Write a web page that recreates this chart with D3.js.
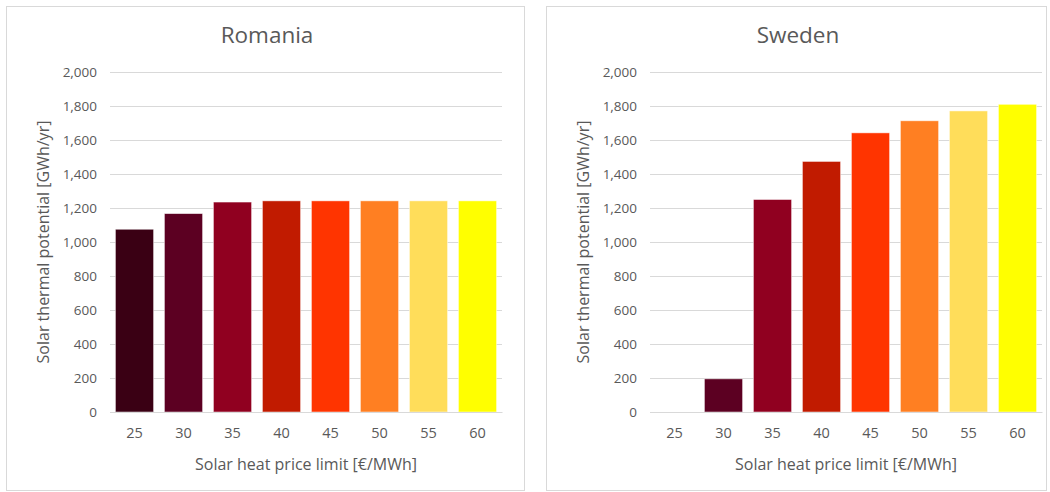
<!DOCTYPE html>
<html>
<head>
<meta charset="utf-8">
<script src="https://cdn.jsdelivr.net/npm/d3@7"></script>
<style>
  body { margin: 0; background: #fff; }
  svg text { font-family: "Open Sans", "Noto Sans", sans-serif; fill: #595959; }
</style>
</head>
<body>
<div id="chart"></div>
<script>
// price limits on the x axis
const priceLimits = ["25", "30", "35", "40", "45", "50", "55", "60"];
// one colour per price limit
const barColors = ["#3a0014", "#5c0022", "#900020", "#c11b00", "#ff3400", "#ff7f22", "#ffdd5a", "#ffff00"];
const yTicks = [0, 200, 400, 600, 800, 1000, 1200, 1400, 1600, 1800, 2000];
const romania = [1075, 1167, 1235, 1242, 1242, 1242, 1242, 1242];
const sweden = [0, 195, 1250, 1474, 1642, 1713, 1771, 1810];

const panels = [
  { title: "Romania", values: romania, box: [6, 6, 524, 490], plot: [110, 72, 502, 412] },
  { title: "Sweden", values: sweden, box: [546, 6, 1046, 490], plot: [650, 72, 1042, 412] },
];

const svg = d3.select("#chart").append("svg")
  .attr("width", 1050)
  .attr("height", 492);

const fmt = d3.format(",");

panels.forEach(p => {
  const [bx0, by0, bx1, by1] = p.box;
  const [x0, y0, x1, y1] = p.plot;

  // panel frame
  svg.append("rect")
    .attr("x", bx0 + 0.5).attr("y", by0 + 0.5)
    .attr("width", bx1 - bx0).attr("height", by1 - by0)
    .attr("fill", "#fff")
    .attr("stroke", "#d9d9d9");

  const x = d3.scaleBand()
    .domain(priceLimits)
    .range([x0, x1])
    .paddingInner(0.22)
    .paddingOuter(0.11);

  const y = d3.scaleLinear()
    .domain([0, 2000])
    .range([y1, y0]);

  const g = svg.append("g");

  // gridlines + y labels
  const yAxis = d3.axisLeft(y)
    .tickValues(yTicks)
    .tickSize(-(x1 - x0))
    .tickPadding(13)
    .tickFormat(fmt);
  g.append("g")
    .attr("transform", "translate(" + x0 + ",0)")
    .call(yAxis)
    .call(s => s.select(".domain").remove())
    .call(s => s.selectAll(".tick line").attr("stroke", "#d9d9d9"))
    .call(s => s.selectAll(".tick text").attr("font-size", 13.5).attr("fill", "#595959"));

  // bars
  g.selectAll("rect.bar")
    .data(p.values)
    .join("rect")
    .attr("class", "bar")
    .attr("x", (d, i) => x(priceLimits[i]))
    .attr("width", x.bandwidth())
    .attr("y", d => y(d))
    .attr("height", d => y(0) - y(d))
    .attr("fill", (d, i) => barColors[i])
    .attr("stroke", d => d > 0 ? "rgba(255,255,255,0.6)" : "none")
    .attr("stroke-width", 0.8);

  // x axis
  const xAxis = d3.axisBottom(x).tickSize(0).tickPadding(16);
  g.append("g")
    .attr("transform", "translate(0," + y1 + ")")
    .call(xAxis)
    .call(s => s.select(".domain").attr("stroke", "#d9d9d9"))
    .call(s => s.selectAll(".tick text").attr("font-size", 14.5).attr("fill", "#595959"));

  // titles
  svg.append("text")
    .attr("x", (bx0 + bx1) / 2 + 2)
    .attr("y", 43)
    .attr("text-anchor", "middle")
    .attr("font-size", 22.5)
    .text(p.title);

  svg.append("text")
    .attr("x", (x0 + x1) / 2)
    .attr("y", 470)
    .attr("text-anchor", "middle")
    .attr("font-size", 16)
    .text("Solar heat price limit [€/MWh]");

  svg.append("text")
    .attr("transform", "translate(" + (x0 - 61) + "," + ((y0 + y1) / 2) + ") rotate(-90)")
    .attr("text-anchor", "middle")
    .attr("font-size", 16)
    .text("Solar thermal potential [GWh/yr]");
});
</script>
</body>
</html>
